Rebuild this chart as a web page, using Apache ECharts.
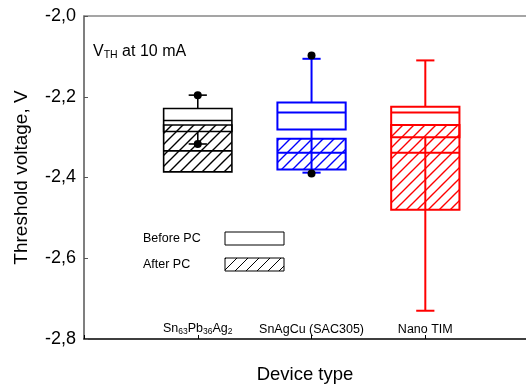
<!DOCTYPE html>
<html>
<head>
<meta charset="utf-8">
<script src="https://cdn.jsdelivr.net/npm/echarts@6/dist/echarts.min.js"></script>
<style>
  html, body { margin: 0; padding: 0; background: #fff; }
  #chart { width: 526px; height: 389px; }
</style>
</head>
<body>
<div id="chart"></div>
<script>
// device types, placed at x = 1, 2, 3
const categories = ['Sn{s|63}Pb{s|36}Ag{s|2}', 'SnAgCu (SAC305)', 'Nano TIM'];
const colors = ['#000000', '#0000ff', '#ff0000'];

// [min, Q1, median, Q3, max]
const beforePC = [
  [-2.317, -2.286, -2.259, -2.229, -2.196],
  [-2.388, -2.281, -2.239, -2.214, -2.106],
  [-2.730, -2.300, -2.239, -2.225, -2.110]
];
const afterPC = [
  [-2.386, -2.386, -2.334, -2.270, -2.270],
  [-2.380, -2.380, -2.339, -2.304, -2.304],
  [-2.480, -2.480, -2.339, -2.270, -2.270]
];
// [device index, value]
const outliers = [
  [0, -2.196], [0, -2.317],
  [1, -2.098], [1, -2.390]
];

const font = 'Liberation Sans, Arial, sans-serif';

function hatch(color, lw) {
  const c = document.createElement('canvas');
  c.width = 11;
  c.height = 11;
  const ctx = c.getContext('2d');
  ctx.strokeStyle = color;
  ctx.lineWidth = lw;
  ctx.beginPath();
  ctx.moveTo(-1, 12); ctx.lineTo(12, -1);
  ctx.moveTo(-1, 1); ctx.lineTo(1, -1);
  ctx.moveTo(10, 12); ctx.lineTo(12, 10);
  ctx.stroke();
  return c;
}

const patterns = colors.map(c => hatch(c, 1.4));

function boxRenderer(hatched) {
  return function (params, api) {
    const i = params.dataIndex;
    const x = api.value(0);
    const lo = api.coord([x, api.value(1)]);
    const q1 = api.coord([x, api.value(2)]);
    const med = api.coord([x, api.value(3)]);
    const q3 = api.coord([x, api.value(4)]);
    const hi = api.coord([x, api.value(5)]);
    const w = api.size([0.6, 0])[0];
    const cw = api.size([0.16, 0])[0];
    const color = colors[i];
    const lw = i === 0 ? 1.6 : 2;
    const line = (x1, y1, x2, y2) => ({
      type: 'line',
      shape: { x1, y1, x2, y2 },
      style: { stroke: color, lineWidth: lw }
    });
    const children = [];
    children.push({
      type: 'rect',
      shape: { x: q3[0] - w / 2, y: q3[1], width: w, height: q1[1] - q3[1] },
      style: {
        fill: hatched ? { image: patterns[i], repeat: 'repeat' } : 'none',
        stroke: color,
        lineWidth: lw
      }
    });
    children.push(line(med[0] - w / 2, med[1], med[0] + w / 2, med[1]));
    if (hi[1] < q3[1] - 0.5) {
      children.push(line(hi[0], hi[1], q3[0], q3[1]));
      children.push(line(hi[0] - cw / 2, hi[1], hi[0] + cw / 2, hi[1]));
    }
    if (lo[1] > q1[1] + 0.5) {
      children.push(line(q1[0], q1[1], lo[0], lo[1]));
      children.push(line(lo[0] - cw / 2, lo[1], lo[0] + cw / 2, lo[1]));
    }
    return { type: 'group', children };
  };
}

const chart = echarts.init(document.getElementById('chart'));

const option = {
  animation: false,
  textStyle: { fontFamily: font },
  grid: { left: 84, top: 16, bottom: 48, right: 0 },
  xAxis: [
    {
      type: 'value',
      min: 0, max: 3.885, interval: 1,
      name: 'Device type',
      nameLocation: 'middle',
      nameGap: 26,
      nameTextStyle: { fontSize: 18.5, color: '#000', fontFamily: font },
      axisLine: { lineStyle: { color: '#000', width: 1.5 } },
      axisTick: { inside: true, length: 4, lineStyle: { color: '#000' } },
      splitLine: { show: false },
      axisLabel: {
        inside: true,
        margin: 3,
        fontSize: 12.5,
        color: '#000',
        fontFamily: font,
        showMaxLabel: false,
        formatter: v => (v >= 1 && v <= 3 ? categories[v - 1] : ''),
        rich: {
          s: { fontSize: 8.5, padding: [6, 0, 0, 0], color: '#000', fontFamily: font }
        }
      }
    },
    {
      type: 'value',
      position: 'top',
      min: 0, max: 3.885,
      axisLine: { lineStyle: { color: '#888', width: 1.5 } },
      axisTick: { show: false },
      axisLabel: { show: false },
      splitLine: { show: false }
    }
  ],
  yAxis: {
    type: 'value',
    min: -2.8, max: -2.0, interval: 0.2,
    name: 'Threshold voltage, V',
    nameLocation: 'middle',
    nameGap: 53,
    nameTextStyle: { fontSize: 19, color: '#000', fontFamily: font },
    axisLine: { show: true, lineStyle: { color: '#555', width: 1.5 } },
    axisTick: { show: true, inside: true, length: 4, lineStyle: { color: '#555' } },
    splitLine: { show: false },
    axisLabel: {
      margin: 8,
      fontSize: 18,
      color: '#000',
      fontFamily: font,
      formatter: v => v.toFixed(1).replace('.', ',')
    }
  },
  graphic: [
    {
      type: 'text', x: 93, y: 43,
      style: {
        text: 'V{s|TH} at 10 mA',
        fontSize: 16, fill: '#000', fontFamily: font,
        rich: { s: { fontSize: 10.5, padding: [7, 0, 0, 0], fontFamily: font } }
      }
    },
    {
      type: 'text', x: 143, y: 232,
      style: { text: 'Before PC', fontSize: 12.5, fill: '#000', fontFamily: font }
    },
    {
      type: 'rect',
      shape: { x: 225, y: 232, width: 59, height: 13 },
      style: { fill: 'none', stroke: '#000', lineWidth: 1 }
    },
    {
      type: 'text', x: 143, y: 258,
      style: { text: 'After PC', fontSize: 12.5, fill: '#000', fontFamily: font }
    },
    {
      type: 'rect',
      shape: { x: 225, y: 258, width: 59, height: 13 },
      style: { fill: { image: hatch('#000', 1), repeat: 'repeat' }, stroke: '#000', lineWidth: 1 }
    }
  ],
  series: [
    {
      name: 'After PC',
      type: 'custom',
      renderItem: boxRenderer(true),
      encode: { x: 0, y: [1, 2, 3, 4, 5] },
      data: afterPC.map((d, i) => [i + 1].concat(d)),
      z: 2
    },
    {
      name: 'Before PC',
      type: 'custom',
      renderItem: boxRenderer(false),
      encode: { x: 0, y: [1, 2, 3, 4, 5] },
      data: beforePC.map((d, i) => [i + 1].concat(d)),
      z: 3
    },
    {
      name: 'Outliers',
      type: 'scatter',
      symbol: 'circle',
      symbolSize: 8,
      itemStyle: { color: '#000', opacity: 1 },
      data: outliers.map(o => [o[0] + 1, o[1]]),
      z: 4
    }
  ]
};

chart.setOption(option);
</script>
</body>
</html>
